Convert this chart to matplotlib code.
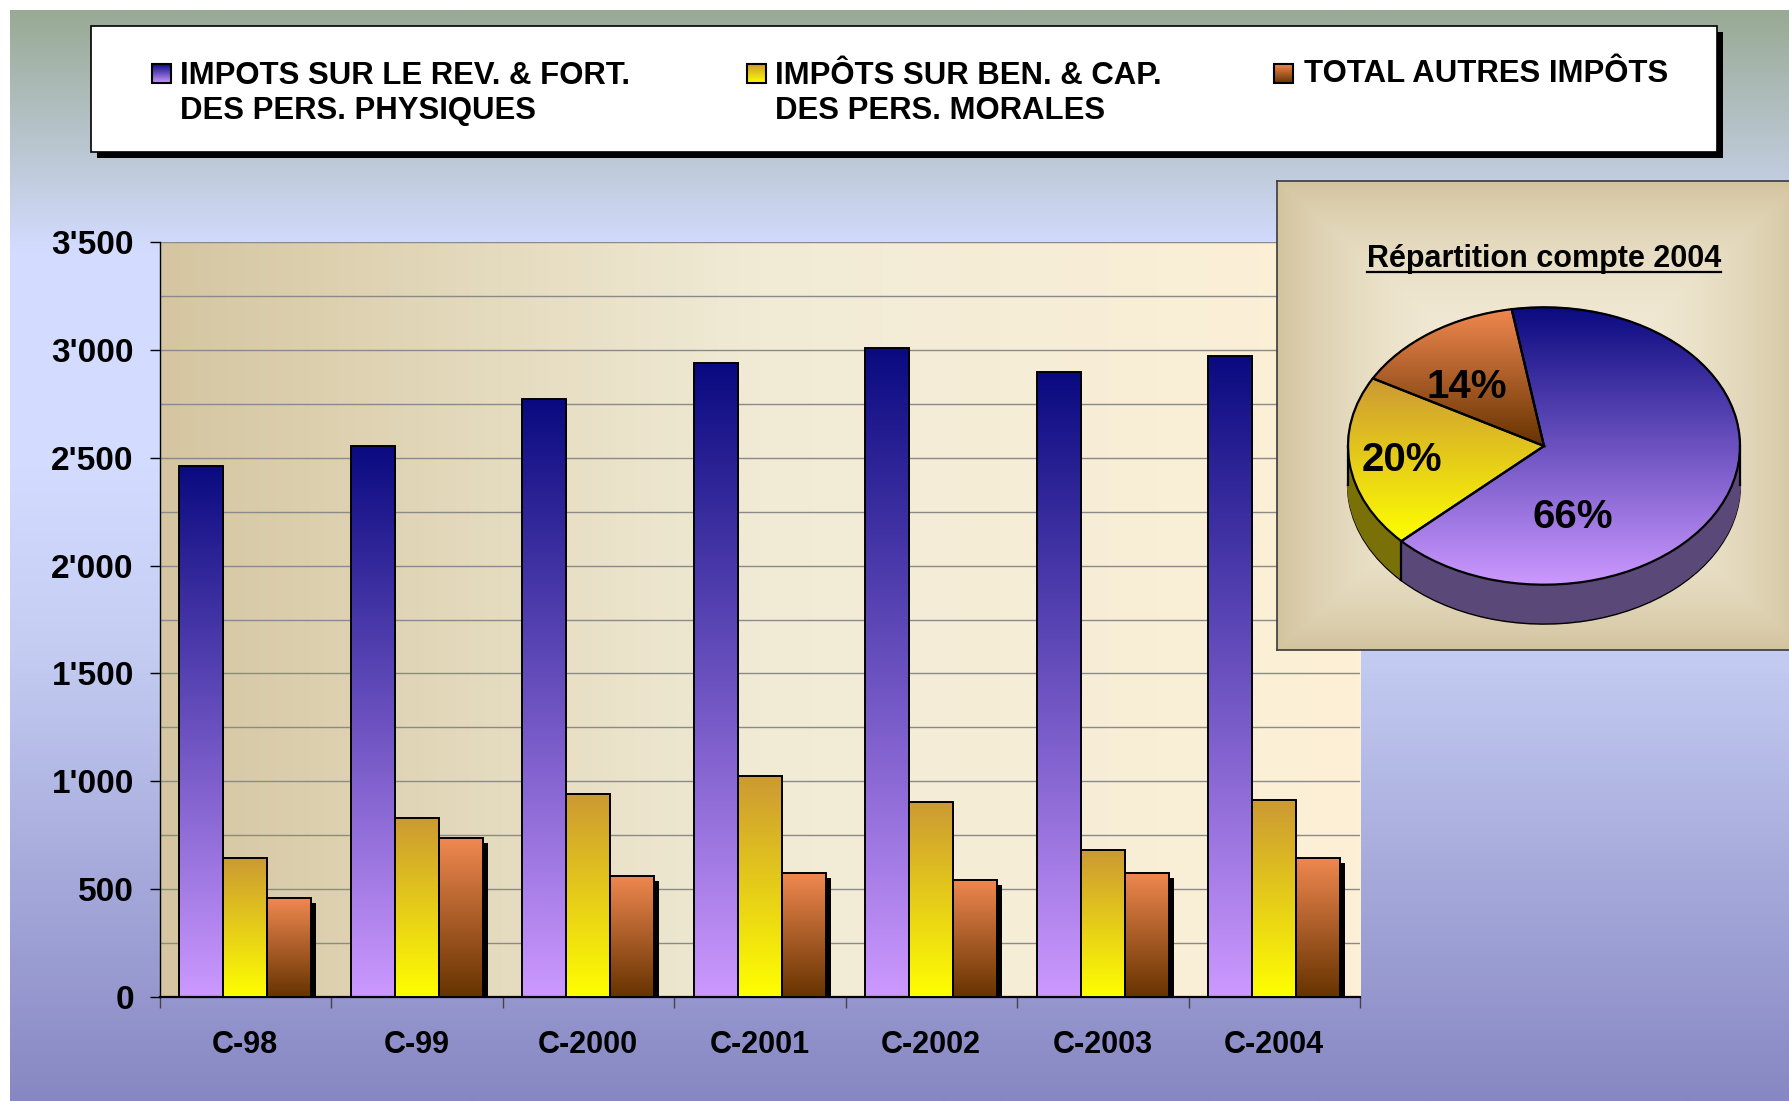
import numpy as np
import matplotlib
matplotlib.use("Agg")
import matplotlib.pyplot as plt
from matplotlib.colors import LinearSegmentedColormap, to_rgb
from matplotlib.patches import Rectangle
from matplotlib.ticker import FuncFormatter
from matplotlib import patheffects as pe

plt.rcParams['font.family'] = ['Liberation Sans', 'DejaVu Sans']
plt.rcParams['font.weight'] = 'bold'

# data
categories = ["C-98", "C-99", "C-2000", "C-2001", "C-2002", "C-2003", "C-2004"]
impots_pp = [2463, 2555, 2770, 2937, 3008, 2897, 2972]
impots_pm = [645, 830, 940, 1025, 905, 680, 912]
autres = [457, 736, 561, 573, 543, 575, 646]
series_names = ["IMPOTS SUR LE REV. & FORT.\nDES PERS. PHYSIQUES",
                "IMPÔTS SUR BEN. & CAP.\nDES PERS. MORALES",
                "TOTAL AUTRES IMPÔTS"]
pie_title = "Répartition compte 2004"
pie_values = [impots_pp[-1], impots_pm[-1], autres[-1]]

# (top colour, bottom colour) of each gradient
grads = [("#0a0a80", "#cc99ff"), ("#cc9933", "#ffff00"), ("#f08850", "#663300")]
side_colors = ["#5a4878", "#7a7008", "#7a4018"]

W, H = 1789, 1101
fig = plt.figure(figsize=(W / 100, H / 100), dpi=100)
fig.patch.set_facecolor("white")


def px_axes(x0, y0, x1, y1):
    return fig.add_axes([x0 / W, 1 - y1 / H, (x1 - x0) / W, (y1 - y0) / H])


def vcmap(top, bottom):
    return LinearSegmentedColormap.from_list("g", [bottom, top])


ramp = np.linspace(0, 1, 256).reshape(-1, 1)

# page background
bg = fig.add_axes([0, 0, 1, 1])
bg.set_xlim(0, W)
bg.set_ylim(H, 0)
bg.axis("off")
stops = [0.0, 0.22, 0.42, 0.59, 1.0]
stop_cols = np.array([to_rgb(c) for c in ["#98aa94", "#d3dcff", "#d3dcff", "#c4ccf2", "#8787c3"]])
yy = np.linspace(0, 1, 400)
col = np.stack([np.interp(yy, stops, stop_cols[:, k]) for k in range(3)], axis=-1)
bg.imshow(col.reshape(-1, 1, 3), extent=(10, W, H, 10), aspect="auto", origin="upper")
bg.set_xlim(0, W)
bg.set_ylim(H, 0)

# bar chart
ax = px_axes(159.5, 242, 1360, 997)
x = np.arange(len(categories))
ax.imshow(np.linspace(0, 1, 256).reshape(1, -1),
          cmap=LinearSegmentedColormap.from_list("p", ["#d5c6a1", "#f1ebd6", "#fdf0d6"]),
          extent=(-0.5, len(categories) - 0.5, 0, 3500), aspect="auto", zorder=0)

width = 0.257
for k, vals in enumerate([impots_pp, impots_pm, autres]):
    pos = x + (k - 1) * width
    if k == 2:
        # only the last series shows its drop shadow
        ax.bar(pos, vals, width, color="black", zorder=2 + k,
               path_effects=[pe.SimplePatchShadow(offset=(3.5, -3.5), shadow_rgbFace="black", alpha=1.0)])
    bars = ax.bar(pos, vals, width, facecolor="none", edgecolor="black", linewidth=1.4, zorder=2.2 + k)
    cm = vcmap(*grads[k])
    for b in bars:
        x0, y0, w, h = b.get_x(), b.get_y(), b.get_width(), b.get_height()
        im = ax.imshow(ramp, cmap=cm, extent=(x0, x0 + w, y0, y0 + h), origin="lower",
                       aspect="auto", zorder=2.1 + k)
        im.set_clip_path(b)

ax.set_xlim(-0.5, len(categories) - 0.5)
ax.set_ylim(0, 3500)
ax.set_axisbelow(True)
ax.set_yticks(np.arange(0, 3501, 500))
ax.set_yticks(np.arange(0, 3501, 250), minor=True)
ax.yaxis.set_major_formatter(FuncFormatter(lambda v, p: f"{int(v):,}".replace(",", "'")))
ax.grid(True, which="both", axis="y", color="#8a8a8a", linewidth=1)
ax.set_xticks(x)
ax.set_xticklabels(categories)
ax.set_xticks(np.arange(-0.5, len(categories), 1), minor=True)
ax.tick_params(axis="y", which="major", length=7, width=1, direction="out", pad=11.5, labelsize=24)
ax.tick_params(axis="y", which="minor", length=0)
ax.tick_params(axis="x", which="major", length=0, pad=23.5, labelsize=22)
ax.tick_params(axis="x", which="minor", length=8, width=1, color="#444444")
for s in ["top", "right"]:
    ax.spines[s].set_visible(False)
ax.spines["left"].set_linewidth(1)
ax.spines["bottom"].set_linewidth(1.6)

# pie panel
panel = px_axes(1277, 181, 1805, 650)
u, v = np.meshgrid(np.linspace(-1, 1, 300), np.linspace(-1, 1, 300))
t = np.maximum(np.abs(u), np.abs(v)) ** 2.5
c_in, c_out = np.array(to_rgb("#f3ecd8")), np.array(to_rgb("#d3c49f"))
panel.imshow(c_in + (c_out - c_in) * t[..., None], extent=(0, 1, 0, 1), aspect="auto")
panel.set_xlim(0, 1)
panel.set_ylim(0, 1)
panel.set_xticks([])
panel.set_yticks([])
for s in panel.spines.values():
    s.set_color("#3a3a3a")
    s.set_linewidth(1.2)

# pie, drawn as a tilted disc
cx, cy, a, b_ = 1544, 446, 196, 138.7
depth = 39 / b_
pax = px_axes(cx - 1.05 * a, cy - 1.05 * b_, cx + 1.05 * a, cy + (1.05 + depth) * b_)
pax.patch.set_visible(False)
start = 99.5
for i, d in enumerate(np.linspace(depth, 0, 40)):
    layer, _ = pax.pie(pie_values, startangle=start, counterclock=False, colors=side_colors,
                       center=(0, -d), wedgeprops=dict(linewidth=1, zorder=1))
    for w in layer:
        w.set_edgecolor("black" if i == 0 else w.get_facecolor())
        if i == 0:
            w.set_linewidth(1.6)
wedges, _ = pax.pie(pie_values, startangle=start, counterclock=False, colors=["white"] * 3,
                    wedgeprops=dict(edgecolor="black", linewidth=1.6, zorder=3))
for k, wdg in enumerate(wedges):
    wdg.set_facecolor("none")
    ext = wdg.get_path().get_extents()
    im = pax.imshow(ramp, cmap=vcmap(*grads[k]), extent=(ext.x0, ext.x1, ext.y0, ext.y1),
                    origin="lower", aspect="auto", zorder=2)
    im.set_clip_path(wdg)
angles = {w.theta1 for w in wedges} | {w.theta2 for w in wedges}
for th in list(angles) + [180.0, 360.0]:
    xr, yr = np.cos(np.radians(th)), np.sin(np.radians(th))
    if yr < -1e-6 or th in (180.0, 360.0):
        pax.plot([xr, xr], [yr, yr - depth], color="black", linewidth=1.6, zorder=3)
total = sum(pie_values)
label_pos = [(0.148, -0.512), (-0.724, -0.101), (-0.393, 0.425)]
for val, (lx, ly) in zip(pie_values, label_pos):
    pax.text(lx, ly, f"{val / total:.0%}", ha="center", va="center", fontsize=29,
             fontweight="bold", zorder=5)
pax.set_aspect("auto")
pax.set_xlim(-1.05, 1.05)
pax.set_ylim(-1.05 - depth, 1.05)
pax.axis("off")

# legend and title overlay (pixel coordinates)
ov = fig.add_axes([0, 0, 1, 1], zorder=10)
ov.set_xlim(0, W)
ov.set_ylim(H, 0)
ov.axis("off")
ov.patch.set_visible(False)
ov.add_patch(Rectangle((97, 32), 1626, 126, facecolor="black", edgecolor="none"))
ov.add_patch(Rectangle((91, 26), 1626, 126, facecolor="white", edgecolor="black", linewidth=1.2))
entries = [(152, 180), (747, 775), (1274, 1304)]
for k, (mx, tx) in enumerate(entries):
    r = Rectangle((mx, 64), 19, 19, facecolor="none", edgecolor="black", linewidth=1.5, zorder=3)
    ov.add_patch(r)
    im = ov.imshow(ramp, cmap=vcmap(*grads[k]), extent=(mx, mx + 19, 83, 64), origin="lower",
                   aspect="auto", zorder=2)
    im.set_clip_path(r)
    ty = 93.5 if "\n" in series_names[k] else 74.3
    ov.text(tx, ty, series_names[k], ha="left", va="center", fontsize=22.4, fontweight="bold",
            linespacing=1.23)
ttl = ov.text(cx, 259, pie_title, ha="center", va="center", fontsize=22, fontweight="bold")
ov.set_xlim(0, W)
ov.set_ylim(H, 0)
bb = ttl.get_window_extent(renderer=fig.canvas.get_renderer())
ov.plot([bb.x0, bb.x1], [272, 272], color="black", linewidth=1.6)

fig.savefig("out.png", dpi=100)
